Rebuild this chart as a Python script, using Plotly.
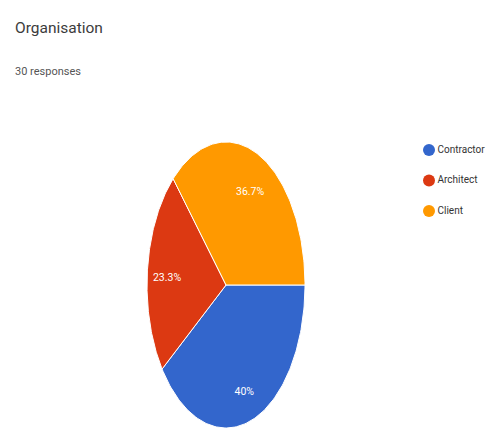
import numpy as np
import plotly.graph_objects as go

# ---- data ----
categories = ["Contractor", "Architect", "Client"]
counts = [12, 7, 11]
colors = ["#3366CC", "#DC3912", "#FF9900"]
title_text = "Organisation"
subtitle_text = "30 responses"

# ---- layout constants (pixels) ----
W, H = 491, 430
CX, CY = 226, 285      # ellipse centre
RX, RY = 79, 143       # ellipse radii
LABEL_R = 0.75
LABEL_DROP = 5         # px
FONT = "Roboto, sans-serif"

vals = np.array(counts, dtype=float)
fracs = vals / vals.sum()
ends = np.cumsum(fracs) * 2 * np.pi
starts = ends - fracs * 2 * np.pi

fig = go.Figure()

# wedges: angle measured clockwise from 3 o'clock
for cat, s, e, col in zip(categories, starts, ends, colors):
    t = np.linspace(s, e, 120)
    xs = np.concatenate([[0], np.cos(t), [0]])
    ys = np.concatenate([[0], -np.sin(t), [0]])
    fig.add_trace(go.Scatter(x=xs, y=ys, mode="lines", fill="toself",
                             fillcolor=col, line=dict(color="white", width=1),
                             hoverinfo="skip", showlegend=False, name=cat))

# percentage labels
mids = (starts + ends) / 2
pct_text = [f"{f*100:.1f}%".replace(".0%", "%") for f in fracs]
fig.add_trace(go.Scatter(x=LABEL_R * np.cos(mids),
                         y=-LABEL_R * np.sin(mids) - LABEL_DROP / RY,
                         mode="text", text=pct_text,
                         textfont=dict(family=FONT, size=10.5, color="white"),
                         hoverinfo="skip", showlegend=False))

# legend (pixel-space axes)
LEG_X, LEG_Y0, LEG_DY = 429, 150, 30.5
fig.add_trace(go.Scatter(x=[LEG_X] * len(categories),
                         y=[LEG_Y0 + i * LEG_DY for i in range(len(categories))],
                         mode="markers+text", text=categories,
                         textposition="middle right",
                         marker=dict(size=12, color=colors),
                         textfont=dict(family=FONT, size=10, color="#333333"),
                         xaxis="x2", yaxis="y2", hoverinfo="skip", showlegend=False))

fig.update_layout(
    width=W, height=H, margin=dict(l=0, r=0, t=0, b=0),
    paper_bgcolor="white", plot_bgcolor="white", showlegend=False,
    xaxis=dict(range=[-CX / RX, (W - CX) / RX], visible=False, fixedrange=True),
    yaxis=dict(range=[-(H - CY) / RY, CY / RY], visible=False, fixedrange=True),
    xaxis2=dict(range=[0, W], visible=False, overlaying="x", fixedrange=True),
    yaxis2=dict(range=[H, 0], visible=False, overlaying="y", fixedrange=True),
    annotations=[
        dict(text=title_text, x=13 / W, y=1 - 28 / H, xref="paper", yref="paper",
             xanchor="left", yanchor="middle", showarrow=False,
             font=dict(family=FONT, size=15.5, color="#3c3c3c")),
        dict(text=subtitle_text, x=13 / W, y=1 - 72 / H, xref="paper", yref="paper",
             xanchor="left", yanchor="middle", showarrow=False,
             font=dict(family=FONT, size=11, color="#555555")),
    ],
)

fig.write_html("out.html")
